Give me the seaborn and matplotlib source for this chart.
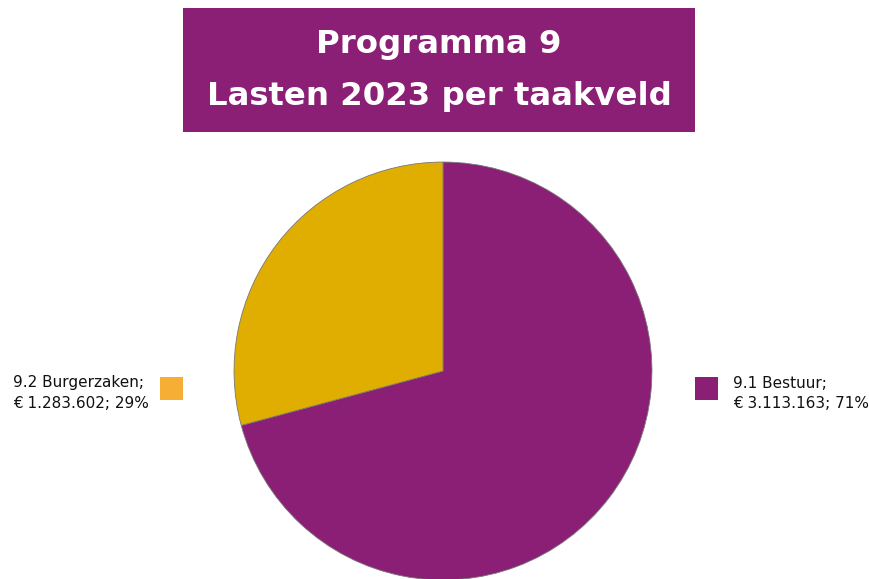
import matplotlib
matplotlib.use('Agg')
import matplotlib.pyplot as plt
from matplotlib.patches import Rectangle
import seaborn as sns

#%% data
taakvelden = ['9.1 Bestuur', '9.2 Burgerzaken']
lasten = [3113163, 1283602]
percentages = ['71%', '29%']
pie_colors = ['#8B1F75', '#DFAE00']
marker_colors = ['#8B1F75', '#F7AE35']

title_lines = ['Programma 9', 'Lasten 2023 per taakveld']


def euro(v):
    return '€ ' + f'{v:,}'.replace(',', '.')


#%% make graph
sns.set_theme(style='white')
plt.rcParams['font.family'] = ['DejaVu Sans']

W, H = 870, 579
fig = plt.figure(figsize=(W / 100, H / 100), dpi=100)
fig.patch.set_facecolor('white')

# title box
fig.patches.append(Rectangle((183 / W, 1 - 132 / H), 512 / W, 124 / H,
                             transform=fig.transFigure, facecolor='#8B1F75',
                             edgecolor='none', zorder=0))
fig.text(439 / W, 1 - 45 / H, title_lines[0], ha='center', va='center',
         color='white', fontsize=23.3, fontweight='bold')
fig.text(439 / W, 1 - 96 / H, title_lines[1], ha='center', va='center',
         color='white', fontsize=23.3, fontweight='bold')

# pie
ax = fig.add_axes([233 / W, -2 / H, 420 / W, 420 / H])
ax.pie(lasten, colors=pie_colors, startangle=90, counterclock=False,
       radius=1, wedgeprops=dict(edgecolor='#777777', linewidth=0.6))
ax.set_xlim(-1.005, 1.005)
ax.set_ylim(-1.005, 1.005)
ax.set_aspect('equal')
ax.axis('off')

# labels right (Bestuur) and left (Burgerzaken)
lab = dict(ha='left', va='center', fontsize=11, color='#111111')
fig.patches.append(Rectangle((695 / W, 1 - 400 / H), 23 / W, 23 / H,
                             transform=fig.transFigure,
                             facecolor=marker_colors[0], edgecolor='none'))
fig.text(733 / W, 1 - 383 / H, taakvelden[0] + ';', **lab)
fig.text(733 / W, 1 - 404 / H, euro(lasten[0]) + '; ' + percentages[0], **lab)

fig.patches.append(Rectangle((160 / W, 1 - 400 / H), 23 / W, 23 / H,
                             transform=fig.transFigure,
                             facecolor=marker_colors[1], edgecolor='none'))
fig.text(13 / W, 1 - 383 / H, taakvelden[1] + ';', **lab)
fig.text(13 / W, 1 - 404 / H, euro(lasten[1]) + '; ' + percentages[1], **lab)

plt.savefig('out.png', dpi=100)
